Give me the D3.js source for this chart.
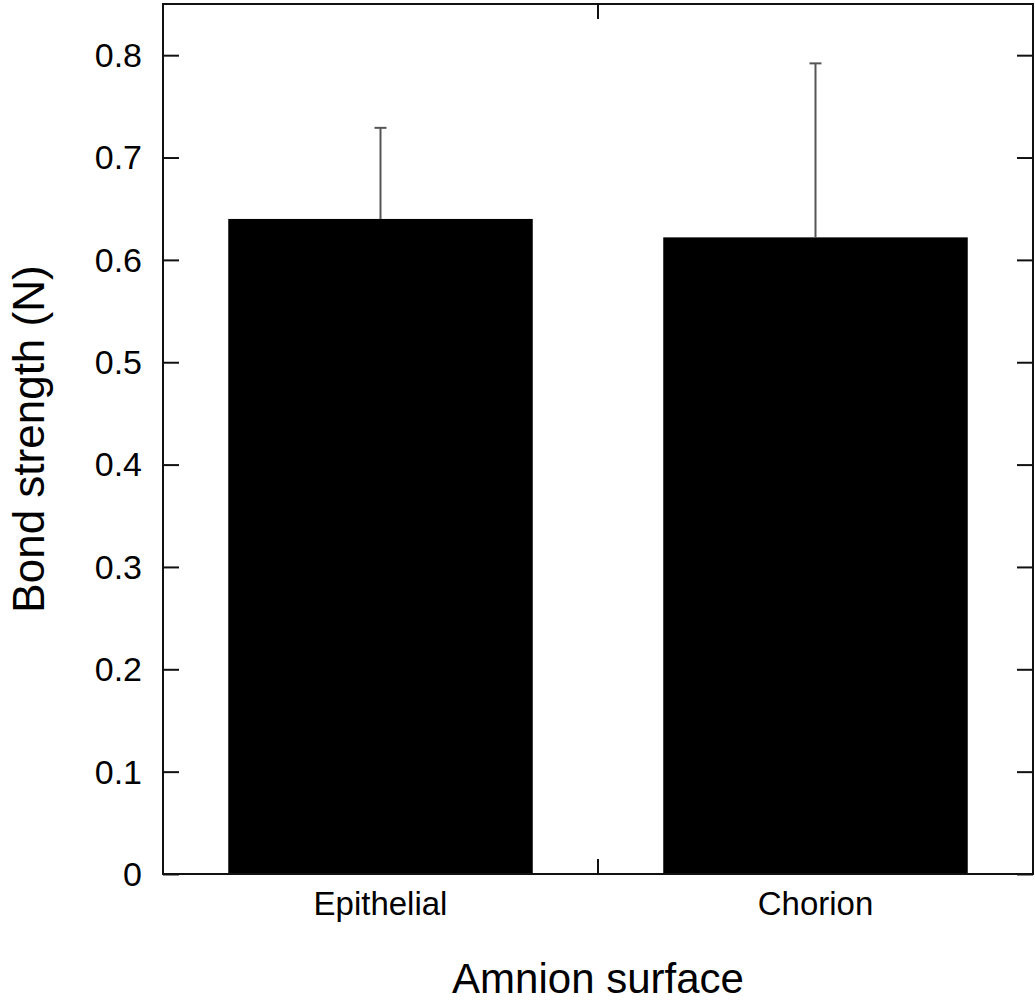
<!DOCTYPE html>
<html><head><meta charset="utf-8">
<script src="https://cdn.jsdelivr.net/npm/d3@7"></script>
<style>body{margin:0;background:#fff}svg{display:block}text{font-family:"Liberation Sans",Arial,sans-serif;fill:#000}</style>
</head><body>
<script>
const categories = ["Epithelial", "Chorion"];
const means = [0.640, 0.622];
const errors = [0.089, 0.170];
const yTicks = [0, 0.1, 0.2, 0.3, 0.4, 0.5, 0.6, 0.7, 0.8];
const xTitle = "Amnion surface";
const yTitle = "Bond strength (N)";

const W = 1035, H = 1004;
const m = {left: 163, top: 4, right: 2, bottom: 130};
const svg = d3.select("body").append("svg").attr("width", W).attr("height", H);
const x = d3.scaleBand().domain(categories).range([m.left, W - m.right]).paddingInner(0.3).paddingOuter(0.15);
const y = d3.scaleLinear().domain([0, 0.85]).range([H - m.bottom, m.top]);

const data = categories.map((c, i) => ({c, v: means[i], e: errors[i]}));

// bars
svg.selectAll("rect.bar").data(data).enter().append("rect")
  .attr("x", d => x(d.c)).attr("width", x.bandwidth())
  .attr("y", d => y(d.v)).attr("height", d => y(0) - y(d.v))
  .attr("fill", "#000");

// error bars (upper only)
const eb = svg.selectAll("g.eb").data(data).enter().append("g").attr("stroke", "#555").attr("stroke-width", 2);
eb.append("line").attr("x1", d => x(d.c) + x.bandwidth()/2).attr("x2", d => x(d.c) + x.bandwidth()/2)
  .attr("y1", d => y(d.v)).attr("y2", d => y(d.v + d.e));
eb.append("line").attr("x1", d => x(d.c) + x.bandwidth()/2 - 6).attr("x2", d => x(d.c) + x.bandwidth()/2 + 6)
  .attr("y1", d => y(d.v + d.e)).attr("y2", d => y(d.v + d.e));

// y axes (inward ticks)
const yl = svg.append("g").attr("transform", `translate(${m.left},0)`)
  .call(d3.axisRight(y).tickValues(yTicks).tickSize(16).tickFormat(""));
const yr = svg.append("g").attr("transform", `translate(${W - m.right},0)`)
  .call(d3.axisLeft(y).tickValues(yTicks).tickSize(16).tickFormat(""));
[yl, yr].forEach(g => { g.select(".domain").remove(); g.selectAll("line").attr("stroke", "#111").attr("stroke-width", 2); });

// y tick labels
svg.append("g").selectAll("text").data(yTicks).enter().append("text")
  .attr("x", m.left - 21).attr("y", d => y(d)).attr("dy", "0.35em")
  .attr("text-anchor", "end").attr("font-size", 34).text(d => d === 0 ? "0" : d3.format(".1f")(d));

// x middle tick (between categories)
const mid = (x(categories[0]) + x.bandwidth() + x(categories[1])) / 2;
svg.append("line").attr("x1", mid).attr("x2", mid).attr("y1", y(0)).attr("y2", y(0) - 15).attr("stroke", "#111").attr("stroke-width", 2);
svg.append("line").attr("x1", mid).attr("x2", mid).attr("y1", m.top).attr("y2", m.top + 15).attr("stroke", "#111").attr("stroke-width", 2);

// frame
svg.append("rect").attr("x", m.left).attr("y", m.top).attr("width", W - m.right - m.left).attr("height", H - m.bottom - m.top)
  .attr("fill", "none").attr("stroke", "#111").attr("stroke-width", 2);

// category labels
svg.append("g").selectAll("text").data(categories).enter().append("text")
  .attr("x", d => x(d) + x.bandwidth()/2).attr("y", 915).attr("text-anchor", "middle").attr("font-size", 33).text(d => d);

// axis titles
svg.append("text").attr("x", mid).attr("y", 993).attr("text-anchor", "middle").attr("font-size", 42).text(xTitle);
svg.append("text").attr("transform", `translate(44,${(m.top + H - m.bottom)/2}) rotate(-90)`)
  .attr("text-anchor", "middle").attr("font-size", 44).text(yTitle);
</script>
</body></html>
